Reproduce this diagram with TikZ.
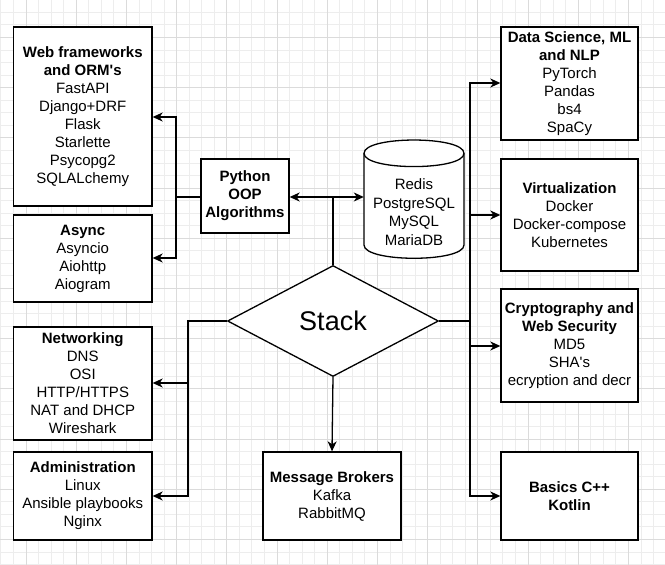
\documentclass[tikz,border=0pt]{standalone}
\usepackage{fontspec}
\newfontfamily\arialish{Liberation Sans}
\usetikzlibrary{arrows.meta,shapes.geometric}
\tikzset{
  gridminor/.style={draw=black!7, line width=0.6pt},
  gridmajor/.style={draw=black!14, line width=0.7pt},
  box/.style={draw=black, fill=white, line width=1.3pt, align=center, inner sep=0pt,
    font=\arialish\fontsize{15}{18}\selectfont},
  conn/.style={draw=black, line width=1.3pt},
  arr/.style={conn, -{Stealth[length=10pt, width=9pt, inset=3pt]}},
}
\begin{document}
\begin{tikzpicture}[x=1pt, y=-1pt]
\useasboundingbox (0,0) rectangle (665,565);
\fill[white] (0,0) rectangle (665,565);
% grid
\foreach \i in {0,...,53} {
  \pgfmathsetmacro\gx{0.75+12.55*\i}
  \draw[gridminor] (\gx,0) -- (\gx,565);
}
\foreach \i in {0,...,45} {
  \pgfmathsetmacro\gy{539.3-12.55*\i}
  \draw[gridminor] (0,\gy) -- (665,\gy);
}
\draw[gridminor] (0,551.85) -- (665,551.85);
\draw[gridminor] (0,564.4) -- (665,564.4);
\foreach \i in {0,...,13} {
  \pgfmathsetmacro\gx{25.85+50.2*\i}
  \draw[gridmajor] (\gx,0) -- (\gx,565);
}
\foreach \i in {0,...,11} {
  \pgfmathsetmacro\gy{539.3-50.2*\i}
  \draw[gridmajor] (0,\gy) -- (665,\gy);
}

% boxes
\node[box, minimum width=138.5, minimum height=179] (web) at (82.75,116.5)
  {\textbf{Web frameworks}\\\textbf{and ORM\textquotesingle s}\\FastAPI\\Django+DRF\\Flask\\Starlette\\Psycopg2\\SQLALchemy};
\node[box, minimum width=138.5, minimum height=87] (async) at (82.75,258.5)
  {\textbf{Async}\\Asyncio\\Aiohttp\\Aiogram};
\node[box, minimum width=138.5, minimum height=113] (net) at (82.75,383.5)
  {\textbf{Networking}\\DNS\\OSI\\HTTP/HTTPS\\NAT and DHCP\\Wireshark};
\node[box, minimum width=138.5, minimum height=88] (admin) at (82.75,496)
  {\textbf{Administration}\\Linux\\Ansible playbooks\\Nginx};
\node[box, minimum width=88, minimum height=74] (py) at (245,196)
  {\textbf{Python}\\\textbf{OOP}\\\textbf{Algorithms}};
\node[box, minimum width=138, minimum height=88] (mb) at (332,496)
  {\textbf{Message Brokers}\\Kafka\\RabbitMQ};
\node[box, minimum width=137, minimum height=113] (ds) at (569.5,83.5)
  {\textbf{Data Science, ML}\\\textbf{and NLP}\\PyTorch\\Pandas\\bs4\\SpaCy};
\node[box, minimum width=137, minimum height=112] (virt) at (569.5,215)
  {\textbf{Virtualization}\\Docker\\Docker-compose\\Kubernetes};
\node[box, minimum width=137, minimum height=113] (crypto) at (569.5,345.5)
  {\textbf{Cryptography and}\\\textbf{Web Security}\\MD5\\SHA\textquotesingle s\\ecryption and decr};
\node[box, minimum width=137, minimum height=88] (basics) at (569.5,496)
  {\textbf{Basics C++}\\\textbf{Kotlin}};

% diamond
\node[diamond, draw=black, fill=white, line width=1.3pt, inner sep=0pt,
  minimum width=211, minimum height=111, font=\arialish\fontsize{27}{32}\selectfont]
  (dia) at (333,321) {Stack};

% cylinder
\draw[conn, fill=white] (364,153.3) -- (364,245)
  .. controls (364,262.7) and (464,262.7) .. (464,245) -- (464,153.3)
  .. controls (464,135.6) and (364,135.6) .. (364,153.3) -- cycle;
\draw[conn] (364,153.3) .. controls (364,171) and (464,171) .. (464,153.3);
\node[align=center, inner sep=0pt, minimum width=100, minimum height=118,
  font=\arialish\fontsize{15}{18.7}\selectfont] (db) at (414,212)
  {Redis\\PostgreSQL\\MySQL\\MariaDB};

% connectors
\coordinate (j1) at (333,197);
\draw[conn] (dia.north) -- (j1);
\draw[arr] (j1) -- (py.east |- j1);
\draw[arr] (j1) -- (db.west |- j1);

\coordinate (j2) at (176,197);
\coordinate (j2a) at (176,117);
\coordinate (j2b) at (176,258);
\draw[conn] (py.west |- j2) -- (j2);
\draw[arr] (j2) -- (j2a) -- (web.east |- j2a);
\draw[arr] (j2) -- (j2b) -- (async.east |- j2b);

\coordinate (j3) at (188,321);
\coordinate (j3a) at (188,383);
\coordinate (j3b) at (188,496);
\draw[arr] (dia.west) -- (j3) -- (j3a) -- (net.east |- j3a);
\draw[arr] (j3a) -- (j3b) -- (admin.east |- j3b);

\coordinate (j4) at (470,321);
\coordinate (j4a) at (470,83);
\coordinate (j4b) at (470,215);
\coordinate (j4c) at (470,346);
\coordinate (j4d) at (470,496);
\draw[conn] (dia.east) -- (j4);
\draw[arr] (j4) -- (j4b) -- (virt.west |- j4b);
\draw[arr] (j4b) -- (j4a) -- (ds.west |- j4a);
\draw[arr] (j4) -- (j4c) -- (crypto.west |- j4c);
\draw[arr] (j4c) -- (j4d) -- (basics.west |- j4d);

\draw[arr] (dia.south) -- (mb.north);
\end{tikzpicture}
\end{document}
